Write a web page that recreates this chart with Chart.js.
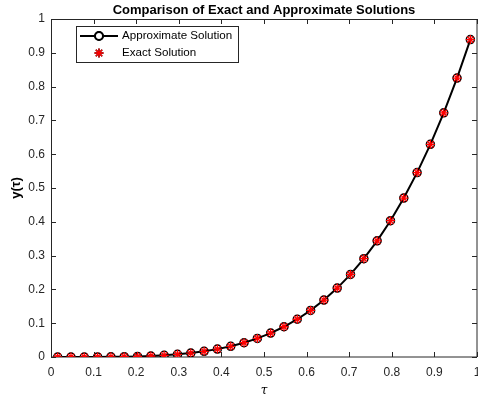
<!DOCTYPE html>
<html>
<head>
<meta charset="utf-8">
<script src="https://cdn.jsdelivr.net/npm/chart.js@4/dist/chart.umd.min.js"></script>
<style>
    html, body { margin: 0; padding: 0; background: #fff; }
    #wrap { width: 478px; height: 400px; }
</style>
</head>
<body>
<div id="wrap"><canvas id="plot"></canvas></div>
<script>
// collocation points tau_i and solution values y(tau_i)
const tau = [
    0.0156, 0.0469, 0.0781, 0.1094, 0.1406, 0.1719, 0.2031, 0.2344,
    0.2656, 0.2969, 0.3281, 0.3594, 0.3906, 0.4219, 0.4531, 0.4844,
    0.5156, 0.5469, 0.5781, 0.6094, 0.6406, 0.6719, 0.7031, 0.7344,
    0.7656, 0.7969, 0.8281, 0.8594, 0.8906, 0.9219, 0.9531, 0.9844
];
const approxY = [
    0.0000, 0.0000, 0.0000, 0.0001, 0.0004, 0.0009, 0.0017, 0.0030,
    0.0050, 0.0078, 0.0116, 0.0167, 0.0233, 0.0317, 0.0422, 0.0551,
    0.0707, 0.0895, 0.1117, 0.1379, 0.1684, 0.2038, 0.2444, 0.2909,
    0.3436, 0.4033, 0.4703, 0.5455, 0.6291, 0.7223, 0.8252, 0.9390
];
const exactY = [
    0.0000, 0.0000, 0.0000, 0.0001, 0.0004, 0.0009, 0.0017, 0.0030,
    0.0050, 0.0078, 0.0116, 0.0167, 0.0233, 0.0317, 0.0422, 0.0551,
    0.0707, 0.0895, 0.1117, 0.1379, 0.1684, 0.2038, 0.2444, 0.2909,
    0.3436, 0.4033, 0.4703, 0.5455, 0.6291, 0.7223, 0.8252, 0.9390
];
const xTicks = [0, 0.1, 0.2, 0.3, 0.4, 0.5, 0.6, 0.7, 0.8, 0.9, 1];
const yTicks = [0, 0.1, 0.2, 0.3, 0.4, 0.5, 0.6, 0.7, 0.8, 0.9, 1];

const FONT = "'Liberation Sans', Arial, Helvetica, sans-serif";
const AXIS = "#262626";

const points = (ys) => tau.map((t, i) => ({ x: t, y: ys[i] }));

// axes box with inward ticks on all four sides
const boxAxes = {
    id: "boxAxes",
    beforeDatasetsDraw(chart) {
        const { ctx, chartArea: a, scales: { x, y } } = chart;
        const len = 5;
        ctx.save();
        ctx.strokeStyle = AXIS;
        ctx.lineWidth = 1;
        ctx.beginPath();
        xTicks.forEach(v => {
            const px = Math.round(x.getPixelForValue(v)) + 0.5;
            ctx.moveTo(px, a.bottom); ctx.lineTo(px, a.bottom - len);
            ctx.moveTo(px, a.top); ctx.lineTo(px, a.top + len);
        });
        yTicks.forEach(v => {
            const py = Math.round(y.getPixelForValue(v)) + 0.5;
            ctx.moveTo(a.left, py); ctx.lineTo(a.left + len, py);
            ctx.moveTo(a.right, py); ctx.lineTo(a.right - len, py);
        });
        ctx.stroke();
        ctx.beginPath();
        ctx.moveTo(Math.round(a.left) + 0.5, a.bottom);
        ctx.lineTo(Math.round(a.left) + 0.5, Math.round(a.top) + 0.5);
        ctx.lineTo(a.right, Math.round(a.top) + 0.5);
        ctx.lineTo(a.right, a.bottom);
        ctx.lineTo(a.left, a.bottom);
        ctx.stroke();
        ctx.restore();
    }
};

// legend box in the upper left corner of the axes
const boxLegend = {
    id: "boxLegend",
    afterDatasetsDraw(chart) {
        const { ctx, data } = chart;
        const bx = 76.5, by = 26.5, bw = 162, bh = 36;
        ctx.save();
        ctx.fillStyle = "#fff";
        ctx.fillRect(bx, by, bw, bh);
        ctx.strokeStyle = AXIS;
        ctx.lineWidth = 1;
        ctx.strokeRect(bx, by, bw, bh);

        const rows = [36, 53];
        data.datasets.slice().reverse().forEach((ds, i) => {
            const ry = rows[i];
            if (ds.showLine !== false) {
                ctx.beginPath();
                ctx.strokeStyle = ds.borderColor;
                ctx.lineWidth = ds.borderWidth;
                ctx.moveTo(80, ry);
                ctx.lineTo(118, ry);
                ctx.stroke();
            }
            Chart.helpers.drawPoint(ctx, {
                pointStyle: ds.pointStyle,
                radius: ds.pointRadius,
                borderWidth: ds.pointBorderWidth,
                rotation: 0
            }, 99, ry);
            ctx.strokeStyle = ds.pointBorderColor;
            ctx.lineWidth = ds.pointBorderWidth;
            ctx.stroke();
            ctx.fillStyle = "#000";
            ctx.font = "11.6px " + FONT;
            ctx.textBaseline = "middle";
            ctx.textAlign = "left";
            ctx.fillText(ds.label, 122, ry);
        });
        ctx.restore();
    }
};

new Chart(document.getElementById("plot"), {
    type: "scatter",
    data: {
        datasets: [
            {
                label: "Exact Solution",
                data: points(exactY),
                showLine: false,
                pointStyle: "star",
                pointRadius: 4.5,
                pointBorderWidth: 1.3,
                pointBorderColor: "#ff0000",
                pointBackgroundColor: "#ff0000",
                borderColor: "#ff0000",
                order: 0,
            },
            {
                label: "Approximate Solution",
                data: points(approxY),
                showLine: true,
                borderColor: "#000",
                borderWidth: 2,
                pointStyle: "circle",
                pointRadius: 4,
                pointBorderWidth: 1.5,
                pointBorderColor: "#000",
                pointBackgroundColor: "rgba(0,0,0,0)",
                order: 1,
            },
        ],
    },
    options: {
        responsive: true,
        maintainAspectRatio: false,
        animation: false,
        layout: { autoPadding: false, padding: { left: 0, right: 1, top: 0, bottom: 0 } },
        plugins: {
            legend: { display: false },
            tooltip: { enabled: false },
            title: {
                display: true,
                fullSize: false,
                text: "Comparison of Exact and Approximate Solutions",
                color: "#000",
                font: { family: FONT, size: 13, weight: "bold" },
                padding: { top: 3, bottom: 0.4 },
            },
        },
        scales: {
            x: {
                type: "linear",
                min: 0,
                max: 1,
                afterBuildTicks: (scale) => { scale.ticks = xTicks.map(v => ({ value: v })); },
                afterFit: (scale) => { scale.height = 43; scale.paddingLeft = 0; scale.paddingRight = 0; },
                grid: { display: false, drawTicks: false },
                border: { display: false },
                ticks: {
                    color: AXIS,
                    padding: 8,
                    maxRotation: 0,
                    autoSkip: false,
                    font: { family: FONT, size: 12 },
                    callback: (v) => String(Math.round(v * 10) / 10),
                },
                title: {
                    display: true,
                    text: "τ",
                    color: "#000",
                    font: { family: "'DejaVu Serif', serif", size: 12, style: "italic" },
                    padding: { top: 0, bottom: 2 },
                },
            },
            y: {
                type: "linear",
                min: 0,
                max: 1,
                afterBuildTicks: (scale) => { scale.ticks = yTicks.map(v => ({ value: v })); },
                afterFit: (scale) => { scale.width = 51; scale.paddingTop = 0; scale.paddingBottom = 0; },
                grid: { display: false, drawTicks: false },
                border: { display: false },
                ticks: {
                    color: AXIS,
                    padding: 6,
                    autoSkip: false,
                    font: { family: FONT, size: 12 },
                    callback: (v) => String(Math.round(v * 10) / 10),
                },
                title: {
                    display: true,
                    text: "y(τ)",
                    color: "#000",
                    font: { family: FONT, size: 13, weight: "bold" },
                    padding: { top: 9, bottom: 0 },
                },
            },
        },
    },
    plugins: [boxAxes, boxLegend],
});
</script>
</body>
</html>
